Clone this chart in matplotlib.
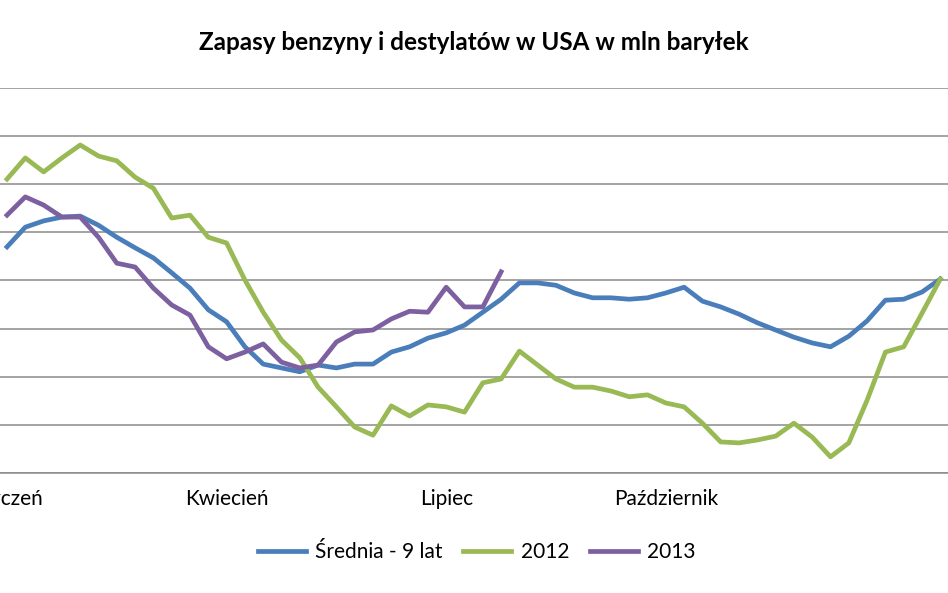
import numpy as np
import matplotlib
matplotlib.use("Agg")
import matplotlib.pyplot as plt

plt.rcParams['font.family'] = ['Lato', 'DejaVu Sans']

# tygodnie (indeksy kategorii), etykiety miesiecy
miesiace = ['Styczeń', 'Kwiecień', 'Lipiec', 'Październik']
pozycje_miesiecy = [0, 12, 24, 36]

# zapasy w mln baryłek
srednia_9_lat = [347.0, 351.1, 352.4, 353.2, 353.4, 351.5, 349.0, 346.8, 344.7, 341.6,
                 338.4, 333.9, 331.4, 326.2, 322.6, 321.8, 321.0, 322.4, 321.8, 322.6,
                 322.6, 325.1, 326.2, 328.0, 329.1, 330.7, 333.4, 336.1, 339.5, 339.5,
                 339.0, 337.4, 336.4, 336.4, 336.1, 336.4, 337.4, 338.6, 335.7, 334.5,
                 333.0, 331.2, 329.7, 328.2, 327.0, 326.2, 328.4, 331.6, 335.9, 336.1,
                 337.6, 340.3]
rok_2012 = [361.1, 365.5, 362.6, 365.5, 368.2, 365.9, 364.9, 361.5, 359.2, 353.0,
            353.6, 349.0, 347.8, 340.1, 333.4, 327.6, 323.9, 317.8, 313.7, 309.5,
            307.8, 313.9, 311.8, 314.1, 313.7, 312.6, 318.7, 319.5, 325.3, 322.4,
            319.5, 317.8, 317.8, 317.0, 315.8, 316.2, 314.5, 313.7, 310.3, 306.4,
            306.2, 306.8, 307.6, 310.3, 307.4, 303.3, 306.2, 315.1, 325.1, 326.2,
            333.2, 340.3]
rok_2013 = [353.6, 357.4, 355.7, 353.2, 353.2, 349.0, 343.6, 342.8, 338.4, 334.9,
            332.8, 326.2, 323.7, 325.1, 326.8, 323.0, 321.8, 322.4, 327.2, 329.3,
            329.7, 332.0, 333.6, 333.4, 338.6, 334.5, 334.5, 341.8]

fig = plt.figure(figsize=(9.48, 5.93), dpi=100)
ax = fig.add_axes([0.0, 0.2029, 1.0, 0.6482])

ax.plot(np.arange(len(srednia_9_lat)), srednia_9_lat, color='#4a7ebb', lw=3.4,
        label='Średnia - 9 lat', solid_joinstyle='round', zorder=3)
ax.plot(np.arange(len(rok_2012)), rok_2012, color='#98b954', lw=3.4,
        label='2012', solid_joinstyle='round', zorder=3)
ax.plot(np.arange(len(rok_2013)), rok_2013, color='#7d60a0', lw=3.4,
        label='2013', solid_joinstyle='round', zorder=3)

ax.set_xlim(-0.383, 51.42)
ax.set_ylim(300, 380)
ax.set_yticks(np.arange(300, 381, 10))
ax.yaxis.grid(True, color='#8a8a8a', lw=1.1)
ax.set_axisbelow(True)
ax.tick_params(axis='y', left=False, labelleft=False)
ax.set_xticks(pozycje_miesiecy)
ax.set_xticklabels(miesiace, fontsize=15)
ax.tick_params(axis='x', length=0, pad=12)
for s in ['top', 'left', 'right']:
    ax.spines[s].set_visible(False)
ax.spines['bottom'].set_color('#8a8a8a')
ax.spines['bottom'].set_linewidth(1.1)

fig.text(0.5, 0.928, 'Zapasy benzyny i destylatów w USA w mln baryłek',
         ha='center', va='center', fontsize=17.5, fontweight='bold')

fig.legend(loc='center', bbox_to_anchor=(0.503, 0.069), ncol=3, frameon=False,
           fontsize=15, handlelength=2.3, columnspacing=1.0, handletextpad=0.45)

fig.savefig('out.png', dpi=100)
